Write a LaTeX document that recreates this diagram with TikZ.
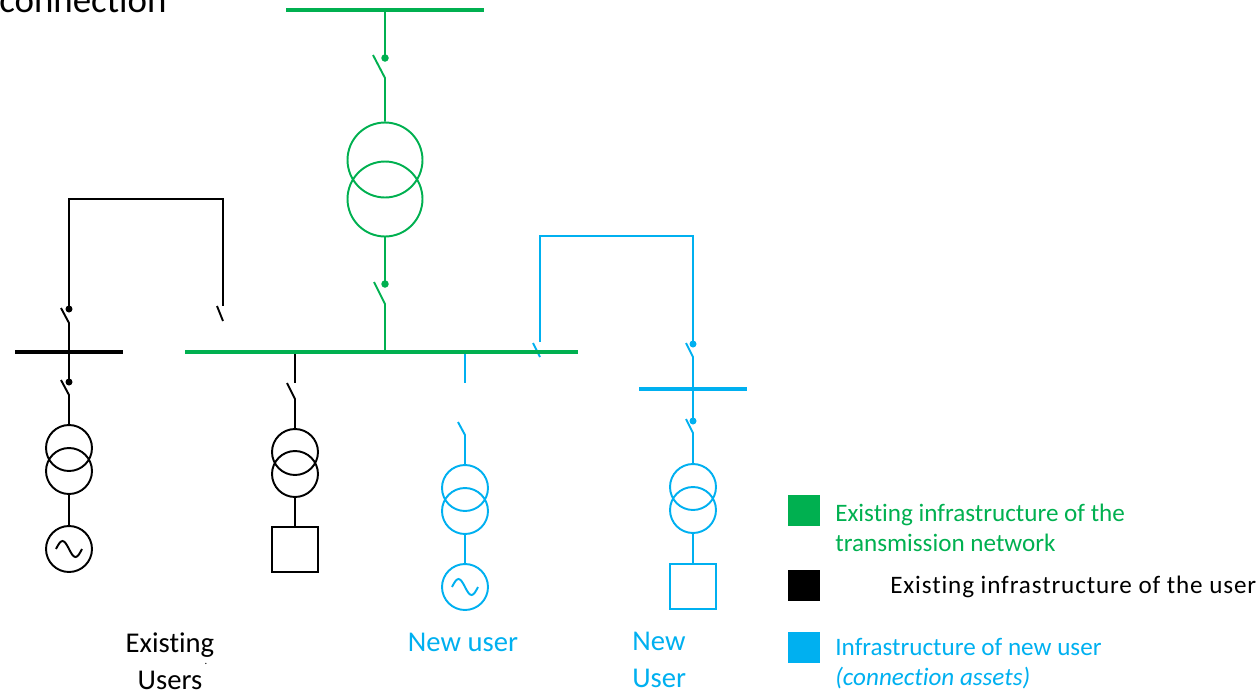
\documentclass[tikz,border=0pt]{standalone}
\usepackage{fontspec}
\setmainfont{Carlito}[Ligatures=NoCommon]
\usetikzlibrary{calc}
\usetikzlibrary{positioning}

\definecolor{netgreen}{HTML}{00B050}
\definecolor{userblue}{HTML}{00B0F0}

\tikzset{
 bus/.style={line width=2.5pt},
 wire/.style={line width=1.1pt},
 loopwire/.style={line width=0.9pt},
 trafo/.style={circle, draw, line width=1.1pt, minimum size=0.92cm, inner sep=0},
 bigtrafo/.style={trafo, minimum size=1.5cm},
 load/.style={rectangle, draw, line width=1.1pt, minimum width=0.92cm, minimum height=0.9cm, inner sep=0},
 lbl/.style={font=\fontsize{16.3}{21}\selectfont, inner sep=0},
 legtext/.style={font=\fontsize{14.3}{17}\selectfont, align=left, anchor=west, inner sep=0},
 legbox/.style={minimum width=0.64cm, minimum height=0.62cm, inner sep=0, anchor=north west},
}

\begin{document}
\begin{tikzpicture}[x=0.02cm, y=-0.02cm]
\useasboundingbox (0,0) rectangle (1259,697);

\node[anchor=base west, inner sep=0, font=\fontsize{21}{25}\selectfont] (title) at (-1,12) {connection};

% network side
\coordinate (hvT) at (385,10);
\coordinate (hvS) at (385,58);
\coordinate (hvP) at (385,78);
\node[bigtrafo, netgreen] (gtu) at (385,160) {};
\node[bigtrafo, netgreen] (gtl) at (385,199) {};
\coordinate (mvS) at (385,284);
\coordinate (mvP) at (385,304);
\coordinate (mvT) at (385,352);
\draw[netgreen, wire] (hvT) -- (hvS);
\draw[netgreen, wire] ($(hvP)+(-12,-23)$) -- (hvP) -- (gtu.north);
\draw[netgreen, wire] (gtl.south) -- (mvS);
\draw[netgreen, wire] ($(mvP)+(-11,-22)$) -- (mvP) -- (mvT);
\foreach \p in {hvS, mvS} \fill[netgreen] (\p) circle (0.075cm);

% existing users
\node[trafo] (e1u) at (69,448) {};
\node[trafo] (e1l) at (69,471) {};
\node[trafo] (gen1) at (69,549) {};
\node[trafo] (e2u) at (295,452) {};
\node[trafo] (e2l) at (295,474) {};
\node[load] (load1) at (295,549.5) {};
\coordinate (eS1) at (69,309);
\coordinate (eP1) at (69,323);
\coordinate (eS2) at (69,382);
\coordinate (eP2) at (69,395);
\coordinate (eR) at (223,306);
\coordinate (eD) at (295,383);
\coordinate (eP3) at (295,399);
\draw[loopwire] (eS1) -- (69,199) -- (223,199) -- (eR);
\draw[wire] ($(eR)+(-6,0)$) -- ($(eR)+(0,15)$);
\draw[wire] ($(eP1)+(-8,-15)$) -- (eP1) -- (eS2);
\draw[wire] ($(eP2)+(-8,-15)$) -- (eP2) -- (e1u.north);
\draw[wire] (e1l.south) -- (gen1.north);
\draw[wire] (295,352) -- (eD);
\draw[wire] ($(eP3)+(-8,-16)$) -- (eP3) -- (e2u.north);
\draw[wire] (e2l.south) -- (load1.north);
\foreach \p in {eS1, eS2} \fill (\p) circle (0.07cm);

% new users
\node[trafo, userblue] (n1u) at (465,488) {};
\node[trafo, userblue] (n1l) at (465,511) {};
\node[trafo, userblue] (gen2) at (465,587) {};
\node[trafo, userblue] (n2u) at (693,487) {};
\node[trafo, userblue] (n2l) at (693,510) {};
\node[load, userblue] (load2) at (693,586.5) {};
\coordinate (nD) at (465,383);
\coordinate (nP1) at (465,435);
\coordinate (nL) at (540,342);
\coordinate (nS1) at (693,344);
\coordinate (nP2) at (693,357);
\coordinate (nS2) at (693,421);
\coordinate (nP3) at (693,433);
\draw[userblue, wire] (465,352) -- (nD);
\draw[userblue, wire] ($(nP1)+(-7,-13)$) -- (nP1) -- (n1u.north);
\draw[userblue, wire] (n1l.south) -- (gen2.north);
\draw[userblue, loopwire] (nL) -- (540,236) -- (693,236) -- (nS1);
\draw[userblue, wire] ($(nL)+(-7,1)$) -- ($(nL)+(0,15)$);
\draw[userblue, wire] ($(nP2)+(-7,-14)$) -- (nP2) -- (nS2);
\draw[userblue, wire] ($(nP3)+(-7,-14)$) -- (nP3) -- (n2u.north);
\draw[userblue, wire] (n2l.south) -- (load2.north);
\foreach \p in {nS1, nS2} \fill[userblue] (\p) circle (0.07cm);

% generators
\foreach \g/\c in {gen1/black, gen2/userblue}
 \draw[\c, wire] ($(\g)+(-13,0)$) sin ($(\g)+(-6.5,-8)$) cos (\g) sin ($(\g)+(6.5,8)$) cos ($(\g)+(13,0)$);

% buses
\draw[netgreen, bus] (286,10) -- (484,10);
\draw[netgreen, bus] (185,352) -- (578,352);
\draw[bus] (15,352) -- (123,352);
\draw[userblue, bus] (639,389) -- (747,389);

% labels
\node[lbl, align=center] (exusers) at (170,661) {Existing\\Users};
\node[inner sep=0, font=\fontsize{6}{6}\selectfont] (exmark) at (206,664) {.};
\node[lbl, userblue] (newuser1) at (463,642) {New user};
\node[lbl, userblue, align=left, anchor=west] (newuser2) at (632,660) {New\\User};

% legend
\node[legbox, fill=netgreen] (lgA) at (788,495) {};
\node[legbox, fill=black] (lgB) at (788,570) {};
\node[legbox, fill=userblue] (lgC) at (788,632) {};
\node[legtext, netgreen] (lgtA) at (835,528) {Existing infrastructure of the\\transmission network};
\node[legtext, font=\fontsize{14.3}{17}\selectfont\addfontfeature{LetterSpace=3.5}] (lgtB) at (890,587) {Existing infrastructure of the user};
\node[legtext, userblue] (lgtC) at (835,664) {Infrastructure of new user\\\textit{(connection assets)}};
\end{tikzpicture}
\end{document}
